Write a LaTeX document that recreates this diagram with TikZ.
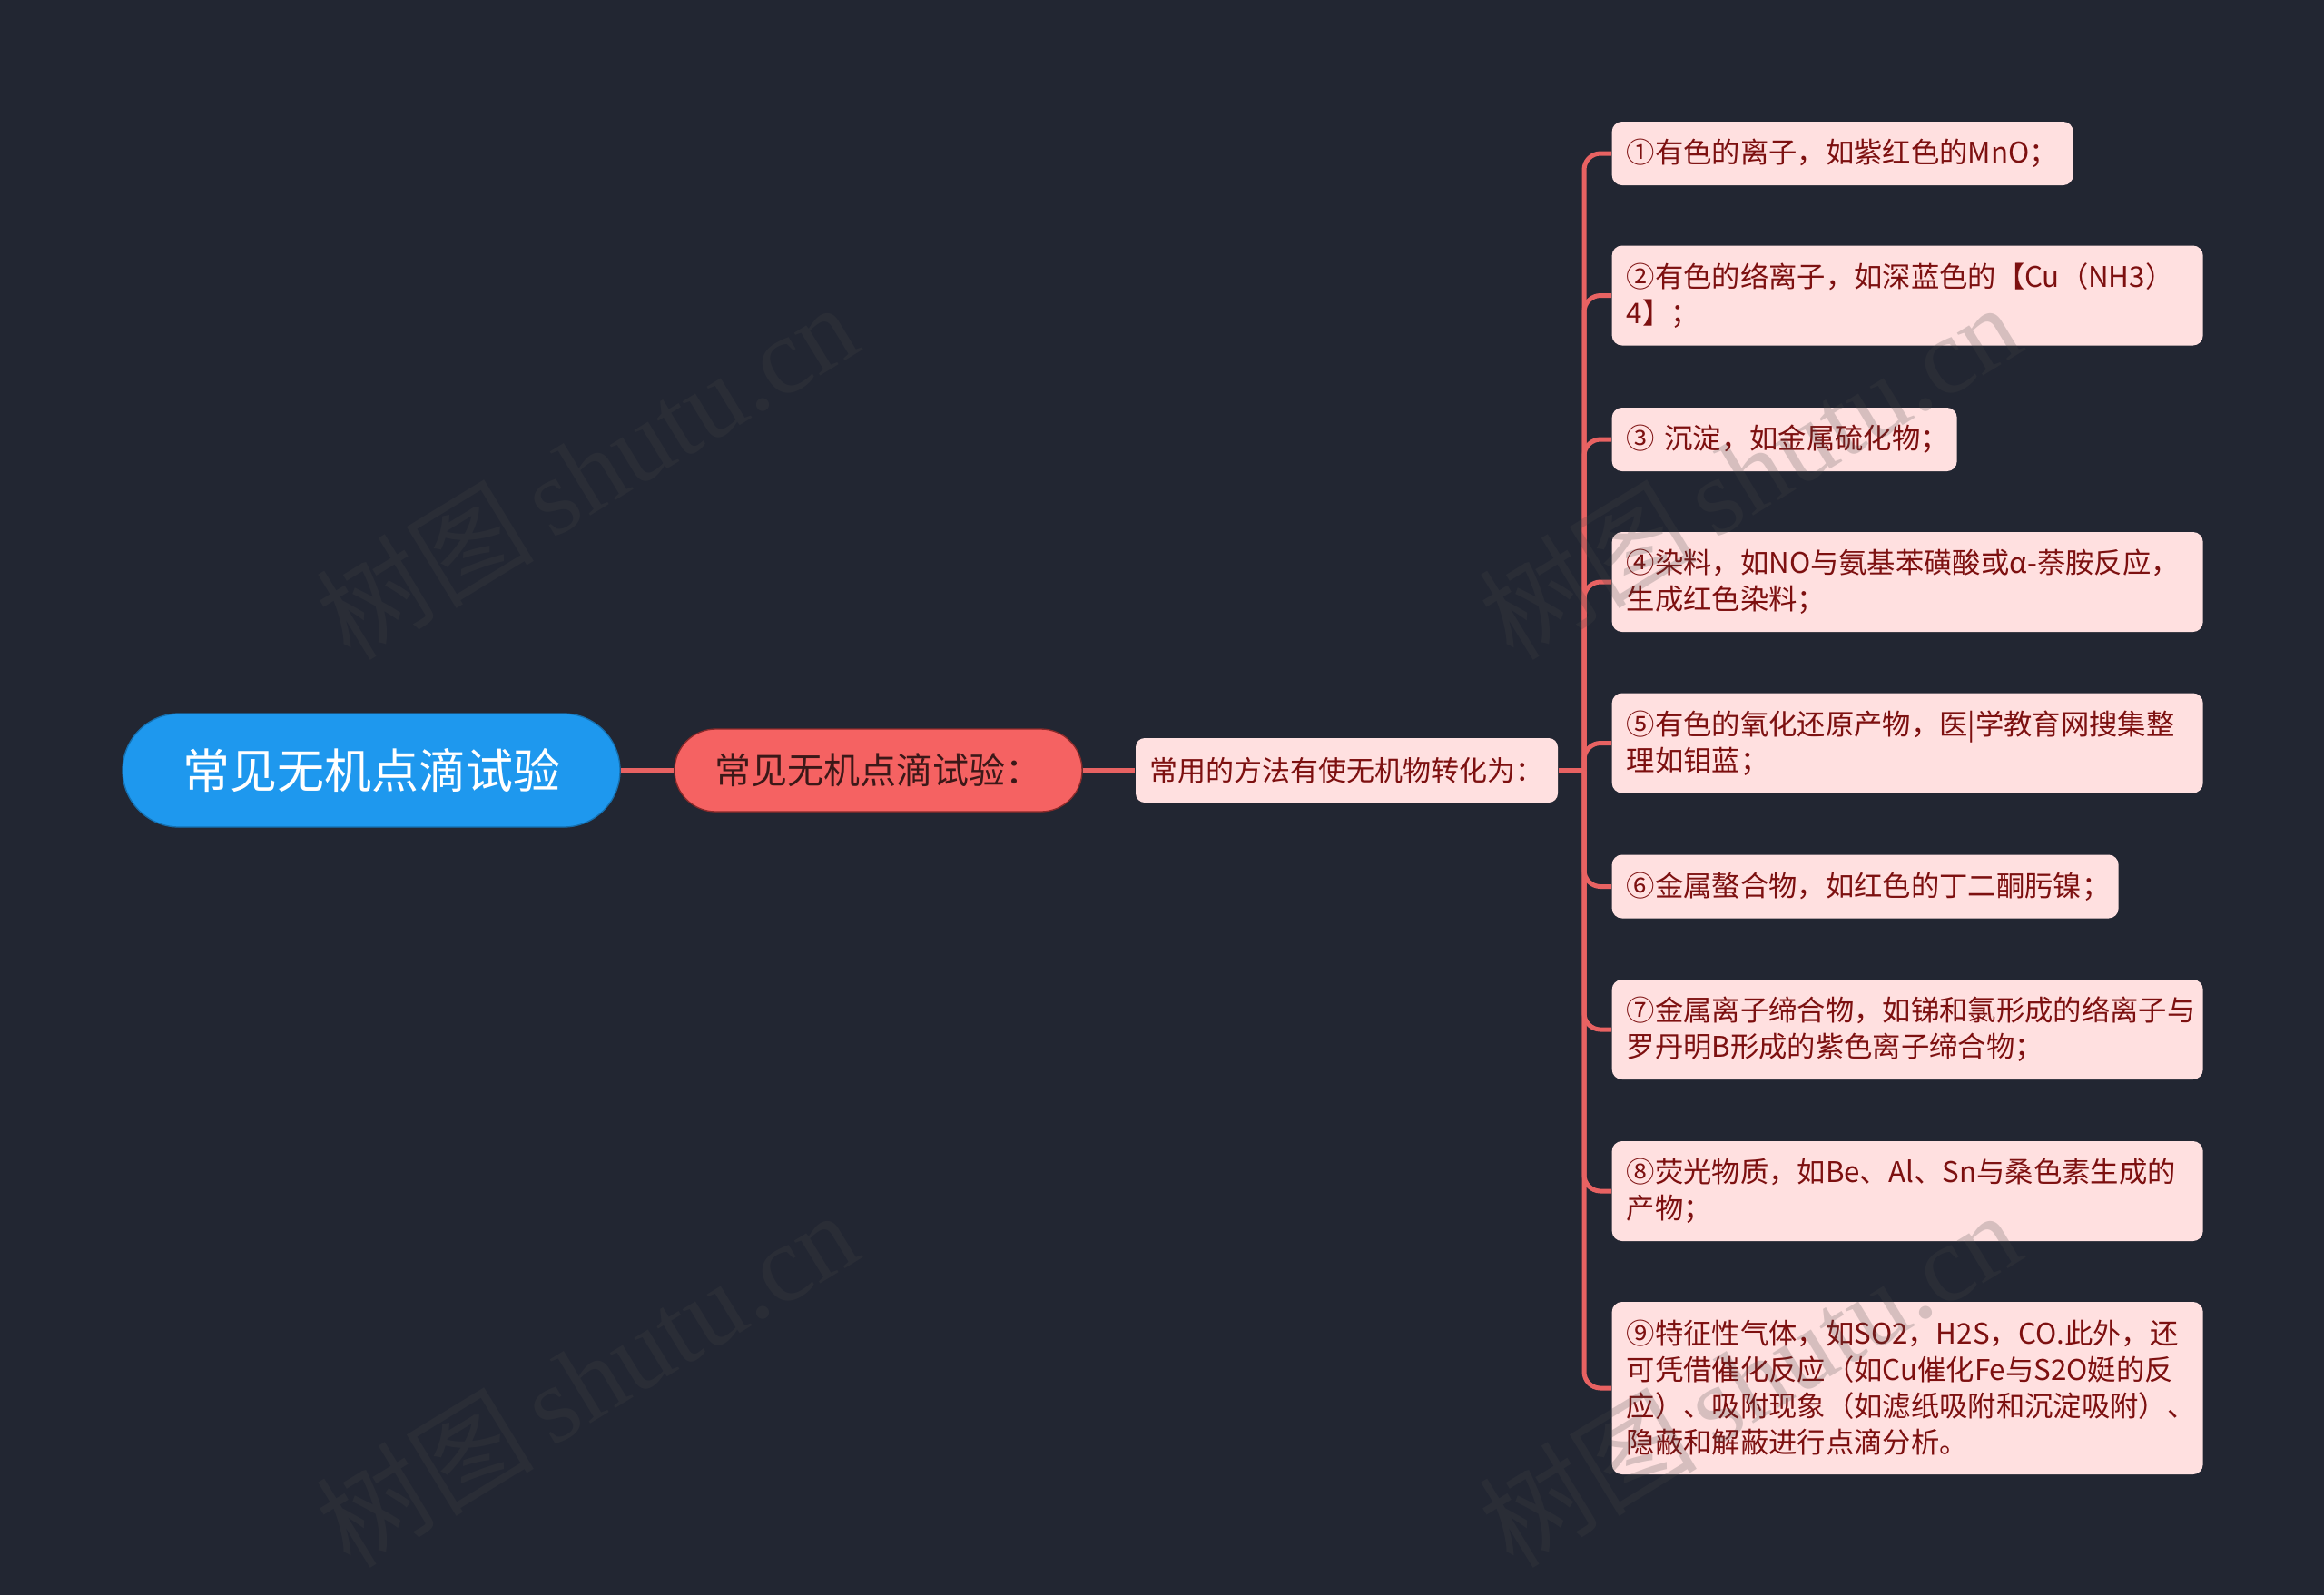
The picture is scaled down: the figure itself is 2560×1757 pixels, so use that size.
\documentclass[tikz,border=0pt]{standalone}
\usepackage{fontspec}
\newfontfamily\cjk{Noto Sans CJK SC}
\newfontfamily\wmserif{Liberation Serif}
\definecolor{bg}{HTML}{222632}
\definecolor{rootfill}{HTML}{1E98EE}
\definecolor{rootedge}{HTML}{1670B0}
\definecolor{midfill}{HTML}{F56262}
\definecolor{midedge}{HTML}{8A2A2A}
\definecolor{midtext}{HTML}{3B1818}
\definecolor{leaffill}{HTML}{FFE0E0}
\definecolor{leaftext}{HTML}{7D1010}
\definecolor{link}{HTML}{E86262}
\definecolor{wm}{HTML}{474747}
\newcommand\oneline[1]{\mbox{#1}}
\tikzset{
  rootbox/.style={fill=rootfill, draw=rootedge, line width=0.4pt, rounded corners=18.7pt,
    minimum width=164.4pt, minimum height=37.5pt, inner sep=0pt, text=white,
    font=\cjk\fontsize{15.6}{18}\selectfont},
  midbox/.style={fill=midfill, draw=midedge, line width=0.4pt, rounded corners=13.6pt,
    minimum width=134.7pt, minimum height=27.3pt, inner sep=0pt, text=midtext,
    font=\cjk\fontsize{12}{14}\selectfont},
  subbox/.style={fill=leaffill, rounded corners=3pt, minimum width=139.5pt,
    minimum height=21.3pt, inner sep=0pt, text=leaftext,
    font=\cjk\fontsize{9.3}{11.5}\selectfont},
  leaf/.style={fill=leaffill, rounded corners=3.3pt, anchor=west, inner xsep=4.8pt,
    inner ysep=0pt, align=left, text=leaftext, font=\cjk\fontsize{9.4}{12}\selectfont},
  link/.style={draw=link, line width=1.5pt},
  wmark/.style={rotate=31.4, text=wm, text opacity=0.22, inner sep=0pt,
    font=\fontsize{36}{40}\selectfont}
}
\begin{document}
\begin{tikzpicture}[x=0.3pt,y=-0.3pt]
\useasboundingbox (0,0) rectangle (2560,1757);
\fill[bg] (0,0) rectangle (2560,1757);

\node[rootbox] (root) at (409,848.5) {常见无机点滴试验};
\node[midbox] (mid) at (967.5,848.5) {常见无机点滴试验：};
\node[subbox] (sub) at (1483.5,848.5) {常用的方法有使无机物转化为：};
\coordinate (j) at (1745,848.5);

\node[leaf, minimum width=152.4pt, minimum height=21pt, text width=142.8pt] (l1) at (1775,169)
  {\oneline{①有色的离子，如紫红色的MnO；}};
\node[leaf, minimum width=195.3pt, minimum height=33pt, text width=185.7pt] (l2) at (1775,325.5)
  {\oneline{②有色的络离子，如深蓝色的【Cu（NH3）}\\\oneline{4】；}};
\node[leaf, minimum width=114pt, minimum height=21pt, text width=104.4pt] (l3) at (1775,484)
  {\oneline{③ 沉淀，如金属硫化物；}};
\node[leaf, minimum width=195.3pt, minimum height=33pt, text width=185.7pt] (l4) at (1775,641)
  {\oneline{④染料，如NO与氨基苯磺酸或α-萘胺反应，}\\\oneline{生成红色染料；}};
\node[leaf, minimum width=195.3pt, minimum height=33pt, text width=185.7pt] (l5) at (1775,818.5)
  {\oneline{⑤有色的氧化还原产物，医|学教育网搜集整}\\\oneline{理如钼蓝；}};
\node[leaf, minimum width=167.4pt, minimum height=21pt, text width=157.8pt] (l6) at (1775,976.5)
  {\oneline{⑥金属螯合物，如红色的丁二酮肟镍；}};
\node[leaf, minimum width=195.3pt, minimum height=33pt, text width=185.7pt] (l7) at (1775,1134)
  {\oneline{⑦金属离子缔合物，如锑和氯形成的络离子与}\\\oneline{罗丹明B形成的紫色离子缔合物；}};
\node[leaf, minimum width=195.3pt, minimum height=33pt, text width=185.7pt] (l8) at (1775,1312)
  {\oneline{⑧荧光物质，如Be、Al、Sn与桑色素生成的}\\\oneline{产物；}};
\node[leaf, minimum width=195.3pt, minimum height=57pt, text width=185.7pt] (l9) at (1775,1529)
  {\oneline{⑨特征性气体，如SO2，H2S，CO.此外，还}\\\oneline{可凭借催化反应（如Cu催化Fe与S2O娗的反}\\\oneline{应）、吸附现象（如滤纸吸附和沉淀吸附）、}\\\oneline{隐蔽和解蔽进行点滴分析。}};

\draw[link] (root.east) -- (mid.west);
\draw[link] (mid.east) -- (sub.west);
\draw[link] (sub.east) -- (j);
\foreach \n in {l1,l2,l3,l4,l5,l6,l7,l8,l9}
  \draw[link, rounded corners=5.4pt] (j) |- (\n.west);

\foreach \p in {(646,518),(1927,518),(646,1518),(1927,1518)}
  \node[wmark] at \p {\cjk 树图\,\wmserif shutu.cn};
\end{tikzpicture}
\end{document}
